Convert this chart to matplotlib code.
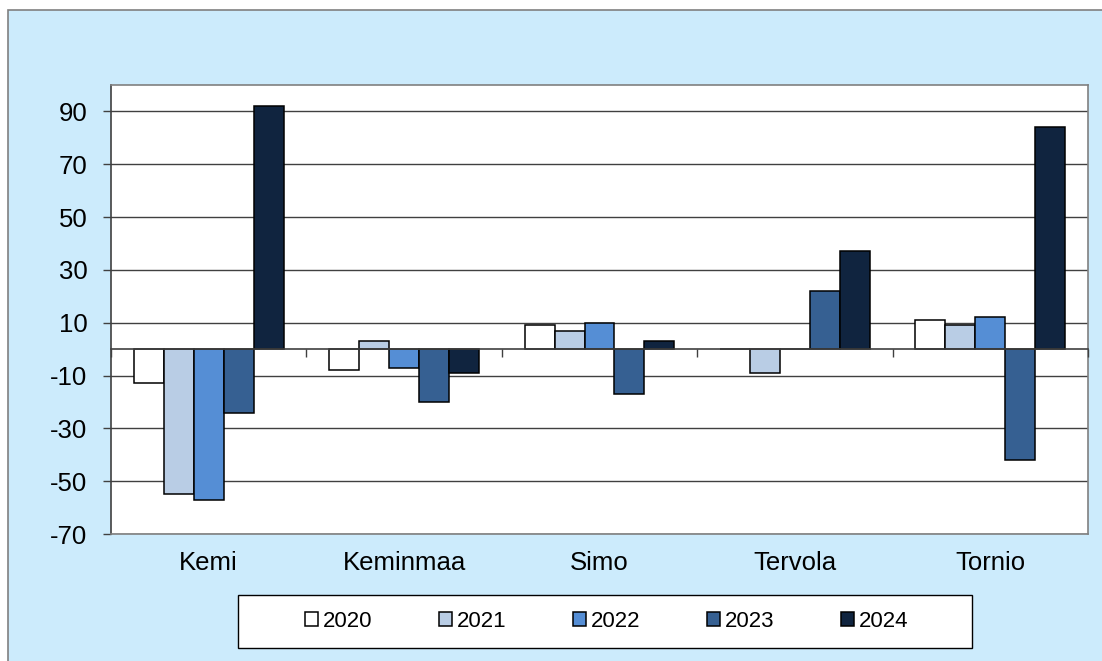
import matplotlib
matplotlib.use("Agg")
import matplotlib.pyplot as plt
from matplotlib.patches import Rectangle
import numpy as np

categories = ["Kemi", "Keminmaa", "Simo", "Tervola", "Tornio"]
years = ["2020", "2021", "2022", "2023", "2024"]
v2020 = [-13, -8, 9, 0, 11]
v2021 = [-55, 3, 7, -9, 9]
v2022 = [-57, -7, 10, 0, 12]
v2023 = [-24, -20, -17, 22, -42]
v2024 = [92, -9, 3, 37, 84]
series = [v2020, v2021, v2022, v2023, v2024]
colors = ["#FFFFFF", "#B9CDE5", "#558ED5", "#366092", "#10243F"]
yticks = [-70, -50, -30, -10, 10, 30, 50, 70, 90]

plt.rcParams['font.family'] = ['Liberation Sans', 'DejaVu Sans']

W, H = 1102, 661
fig = plt.figure(figsize=(W / 100, H / 100), dpi=100, facecolor="white")

# outer chart area
fig.patches.append(Rectangle((8 / W, -0.01), (W - 6) / W, (H - 10) / H + 0.01,
                             transform=fig.transFigure, facecolor="#CCEBFC",
                             edgecolor="#808080", linewidth=1.2, zorder=-10))

ax = fig.add_axes([111 / W, (H - 534) / H, (1088 - 111) / W, (534 - 85) / H])
ax.set_facecolor("white")

x = np.arange(len(categories))
bw = 0.1535
for i, (vals, col, yr) in enumerate(zip(series, colors, years)):
    ax.bar(x + (i - 2) * bw, vals, width=bw, color=col, edgecolor="black",
           linewidth=1.1, label=yr, zorder=3)

ax.set_xlim(-0.5, len(categories) - 0.5)
ax.set_ylim(-70, 100)
ax.set_yticks(yticks)
ax.set_yticklabels([str(t) for t in yticks], fontsize=18.5)
ax.tick_params(axis='y', length=6, width=1, color="#404040", pad=11, direction='out')
ax.yaxis.grid(True, color="#404040", linewidth=1.0, zorder=1)
ax.set_axisbelow(True)

ax.set_xticks(x)
ax.set_xticklabels(categories, fontsize=18.5)
ax.tick_params(axis='x', length=0, pad=12)

for s in ["top", "right", "bottom"]:
    ax.spines[s].set_color("#808080")
    ax.spines[s].set_linewidth(1.2)
ax.spines["left"].set_color("#404040")
ax.spines["left"].set_linewidth(1.2)

# category axis at zero
zero_frac = (0 - (-70)) / (100 - (-70))
sec = ax.secondary_xaxis(zero_frac)
sec.set_xticks(np.arange(-0.5, len(categories), 1.0))
sec.set_xticklabels([])
sec.tick_params(axis='x', length=6, width=1, color="#404040", direction='out')
sec.spines["bottom"].set_color("#404040")
sec.spines["bottom"].set_linewidth(1.2)
sec.set_zorder(4)

# legend box
fig.patches.append(Rectangle((238 / W, (H - 648) / H), (972 - 238) / W, (648 - 595) / H,
                             transform=fig.transFigure, facecolor="white",
                             edgecolor="black", linewidth=1.0, zorder=-5))
handles, labels = ax.get_legend_handles_labels()
leg = fig.legend(handles, labels, loc="center",
                 bbox_to_anchor=((238 + 972) / 2 / W + 2 / W, (H - 621.5) / H),
                 ncol=5, frameon=False, fontsize=16, handlelength=0.58,
                 handleheight=0.58, handletextpad=0.22, columnspacing=3.0)

fig.savefig("out.png", dpi=100, facecolor="white")
